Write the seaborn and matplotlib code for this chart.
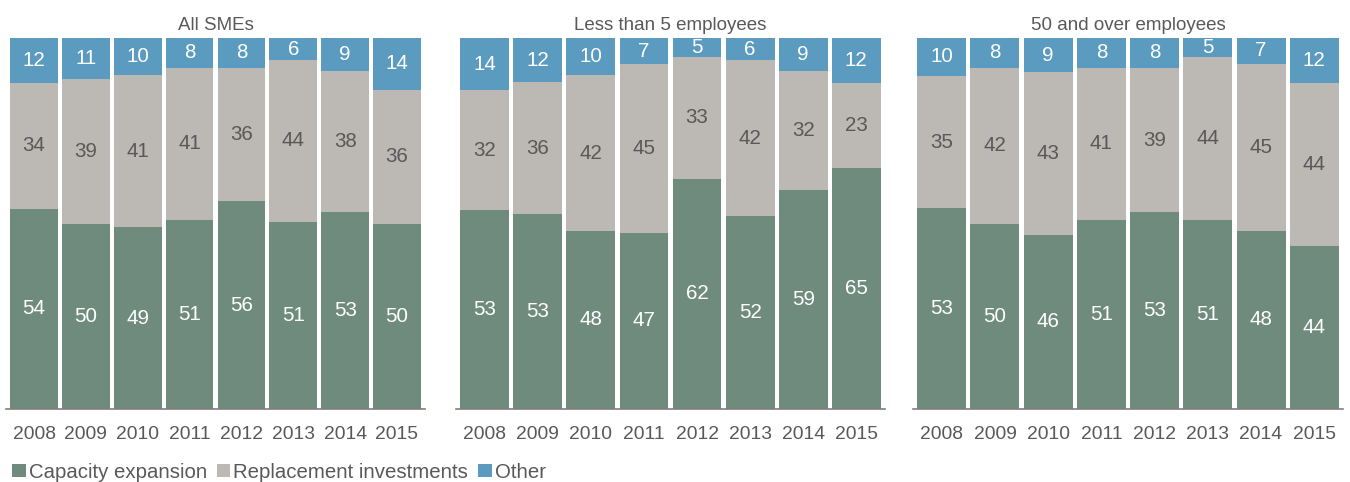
import numpy as np
import pandas as pd
import matplotlib
matplotlib.use("Agg")
import matplotlib.pyplot as plt
from matplotlib.patches import Patch
import seaborn as sns

years = ["2008", "2009", "2010", "2011", "2012", "2013", "2014", "2015"]
panel_titles = ["All SMEs", "Less than 5 employees", "50 and over employees"]

capacity = [
    [54, 50, 49, 51, 56, 51, 53, 50],
    [53, 53, 48, 47, 62, 52, 59, 65],
    [53, 50, 46, 51, 53, 51, 48, 44],
]
replacement = [
    [34, 39, 41, 41, 36, 44, 38, 36],
    [32, 36, 42, 45, 33, 42, 32, 23],
    [35, 42, 43, 41, 39, 44, 45, 44],
]
other = [
    [12, 11, 10, 8, 8, 6, 9, 14],
    [14, 12, 10, 7, 5, 6, 9, 12],
    [10, 8, 9, 8, 8, 5, 7, 12],
]

series_names = ["Capacity expansion", "Replacement investments", "Other"]
colors = ["#6E8B7E", "#BCB8B4", "#5B9BBF"]
label_colors = ["white", "#595959", "white"]
text_grey = "#595959"

sns.set_theme(style="white")
plt.rcParams["font.family"] = ["Liberation Sans", "DejaVu Sans"]

fig = plt.figure(figsize=(13.5, 4.82), dpi=100)
W, H = 1350, 482
# axes extents in pixels: (left, right)
extents = [(6, 425), (456, 885), (913, 1343)]
top_px, bottom_px = 38, 409

for k, (l, r) in enumerate(extents):
    ax = fig.add_axes([l / W, 1 - bottom_px / H, (r - l) / W, (bottom_px - top_px) / H])
    vals = np.array([capacity[k], replacement[k], other[k]], dtype=float)
    shares = vals / vals.sum(axis=0) * 100
    cum = np.cumsum(shares, axis=0)
    df = pd.DataFrame({"year": years})
    # draw cumulative totals from the top segment down so each layer covers the one below
    for i in [2, 1, 0]:
        df["h"] = cum[i]
        sns.barplot(data=df, x="year", y="h", color=colors[i], width=0.92,
                    saturation=1, linewidth=0, ax=ax, order=years)
    # segment value labels
    for j in range(len(years)):
        for i in range(3):
            base = cum[i - 1][j] if i > 0 else 0.0
            ax.text(j, base + shares[i][j] / 2, str(int(vals[i][j])),
                    ha="center", va="center", fontsize=14.8,
                    color=label_colors[i])
    ax.set_xlim(-0.54, 7.54)
    ax.set_ylim(0, 100)
    ax.set_xlabel("")
    ax.set_ylabel("")
    ax.set_yticks([])
    ax.tick_params(axis="x", length=0, pad=12, labelsize=13.9, labelcolor=text_grey)
    for side in ["top", "left", "right"]:
        ax.spines[side].set_visible(False)
    ax.spines["bottom"].set_color("#7F7F7F")
    ax.spines["bottom"].set_linewidth(1.2)
    ax.set_title(panel_titles[k], fontsize=13.5, color=text_grey, pad=6)

handles = [Patch(facecolor=c, edgecolor="none", label=n) for c, n in zip(colors, series_names)]
fig.legend(handles=handles, loc="lower left", bbox_to_anchor=(0.0, -0.025), ncol=3,
           frameon=False, fontsize=14.7, handlelength=0.65, handleheight=0.65,
           handletextpad=0.15, columnspacing=0.5, labelcolor=text_grey,
           borderaxespad=0.2)

fig.savefig("out.png", dpi=100)
